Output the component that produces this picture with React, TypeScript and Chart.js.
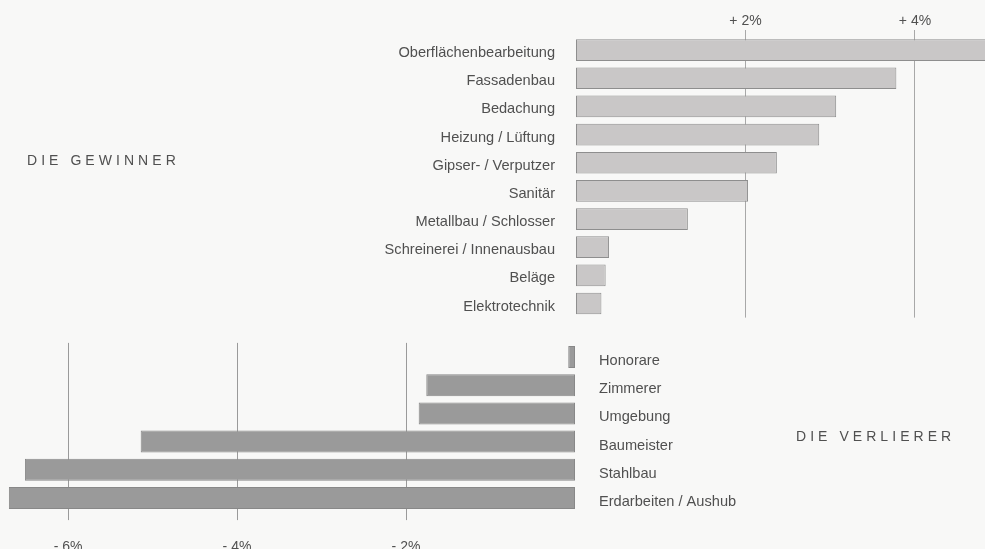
import React, { useEffect, useRef } from "react";
import { Chart, registerables } from "chart.js";

Chart.register(...registerables);

const winnerCategories = [
  "Oberflächenbearbeitung",
  "Fassadenbau",
  "Bedachung",
  "Heizung / Lüftung",
  "Gipser- / Verputzer",
  "Sanitär",
  "Metallbau / Schlosser",
  "Schreinerei / Innenausbau",
  "Beläge",
  "Elektrotechnik",
];
const winnerValues = [4.9, 3.78, 3.07, 2.87, 2.37, 2.03, 1.32, 0.39, 0.35, 0.3];
const winnerTickValues = [2, 4];
const winnerTickLabels = ["+ 2%", "+ 4%"];

const loserCategories = [
  "Honorare",
  "Zimmerer",
  "Umgebung",
  "Baumeister",
  "Stahlbau",
  "Erdarbeiten / Aushub",
];
const loserValues = [-0.08, -1.76, -1.85, -5.14, -6.51, -6.7];
const loserTickValues = [-6, -4, -2];
const loserTickLabels = ["- 6%", "- 4%", "- 2%"];

const winnerTitle = "DIE GEWINNER";
const loserTitle = "DIE VERLIERER";

const FONT = "'Liberation Sans', Arial, Helvetica, sans-serif";
const TEXT = "#505050";

export default function App() {
  const topRef = useRef<HTMLCanvasElement | null>(null);
  const botRef = useRef<HTMLCanvasElement | null>(null);

  useEffect(() => {
    const top = new Chart(topRef.current as HTMLCanvasElement, {
      type: "bar",
      data: {
        labels: winnerCategories,
        datasets: [
          {
            data: winnerValues,
            backgroundColor: "#c9c7c7",
            borderColor: "#8e8e8e",
            borderWidth: 1,
            borderSkipped: false,
            barPercentage: 0.77,
            categoryPercentage: 1,
          },
        ],
      },
      options: {
        indexAxis: "y",
        animation: false,
        responsive: false,
        layout: { padding: { top: 0, bottom: 12.4, left: 0, right: 0 } },
        plugins: {
          legend: { display: false },
          tooltip: { enabled: false },
          title: { display: false },
        },
        scales: {
          x: {
            position: "top",
            min: 0,
            max: 4.826,
            afterBuildTicks: (a: any) => {
              a.ticks = winnerTickValues.map((v) => ({ value: v }));
            },
            afterFit: (a: any) => {
              a.height = 36;
            },
            grid: { color: "#a8a8a8", lineWidth: 1, tickLength: 6, drawTicks: true },
            border: { display: false },
            ticks: {
              padding: 0,
              color: TEXT,
              font: { family: FONT, size: 14 },
              maxRotation: 0,
              autoSkip: false,
              callback: (v: any) => winnerTickLabels[winnerTickValues.indexOf(Number(v))],
            },
          },
          y: {
            afterFit: (a: any) => {
              a.width = 576;
            },
            grid: {
              display: true,
              color: "rgba(0,0,0,0)",
              drawOnChartArea: false,
              drawTicks: true,
              tickLength: 21,
            },
            border: { display: false },
            ticks: {
              padding: 0,
              labelOffset: 3,
              autoSkip: false,
              color: TEXT,
              font: { family: FONT, size: 14.6 },
            },
          },
        },
      },
    } as any);

    const bot = new Chart(botRef.current as HTMLCanvasElement, {
      type: "bar",
      data: {
        labels: loserCategories,
        datasets: [
          {
            data: loserValues,
            backgroundColor: "#9a9a9a",
            borderColor: "#888888",
            borderWidth: 1,
            borderSkipped: false,
            barPercentage: 0.78,
            categoryPercentage: 1,
          },
        ],
      },
      options: {
        indexAxis: "y",
        animation: false,
        responsive: false,
        layout: { padding: { top: 12.9, bottom: 0, left: 0, right: 0 } },
        plugins: {
          legend: { display: false },
          tooltip: { enabled: false },
          title: { display: false },
        },
        scales: {
          x: {
            position: "bottom",
            min: -6.805,
            max: 0,
            afterBuildTicks: (a: any) => {
              a.ticks = loserTickValues.map((v) => ({ value: v }));
            },
            afterFit: (a: any) => {
              a.height = 36.9;
            },
            grid: { color: "#9a9a9a", lineWidth: 1, tickLength: 8, drawTicks: true },
            border: { display: false },
            ticks: {
              padding: 18.5,
              color: TEXT,
              font: { family: FONT, size: 14 },
              maxRotation: 0,
              autoSkip: false,
              callback: (v: any) => loserTickLabels[loserTickValues.indexOf(Number(v))],
            },
          },
          y: {
            position: "right",
            afterFit: (a: any) => {
              a.width = 410;
            },
            grid: {
              display: true,
              color: "rgba(0,0,0,0)",
              drawOnChartArea: false,
              drawTicks: true,
              tickLength: 24,
            },
            border: { display: false },
            ticks: {
              padding: 0,
              labelOffset: 4,
              autoSkip: false,
              color: TEXT,
              font: { family: FONT, size: 14.6 },
            },
          },
        },
      },
    } as any);

    return () => {
      top.destroy();
      bot.destroy();
    };
  }, []);

  const titleStyle: React.CSSProperties = {
    position: "absolute",
    fontFamily: FONT,
    fontSize: 14,
    lineHeight: "14px",
    letterSpacing: "4.05px",
    color: TEXT,
    whiteSpace: "nowrap",
  };

  return (
    <div
      style={{
        position: "absolute",
        left: 0,
        top: 0,
        width: 985,
        height: 549,
        background: "#f8f8f7",
        overflow: "hidden",
      }}
    >
      <canvas
        ref={topRef}
        width={985}
        height={330}
        style={{ position: "absolute", left: 0, top: 0, width: 985, height: 330 }}
      />
      <canvas
        ref={botRef}
        width={985}
        height={219}
        style={{ position: "absolute", left: 0, top: 330, width: 985, height: 219 }}
      />
      <div style={{ ...titleStyle, left: 27, top: 153 }}>{winnerTitle}</div>
      <div style={{ ...titleStyle, left: 796, top: 429 }}>{loserTitle}</div>
    </div>
  );
}
